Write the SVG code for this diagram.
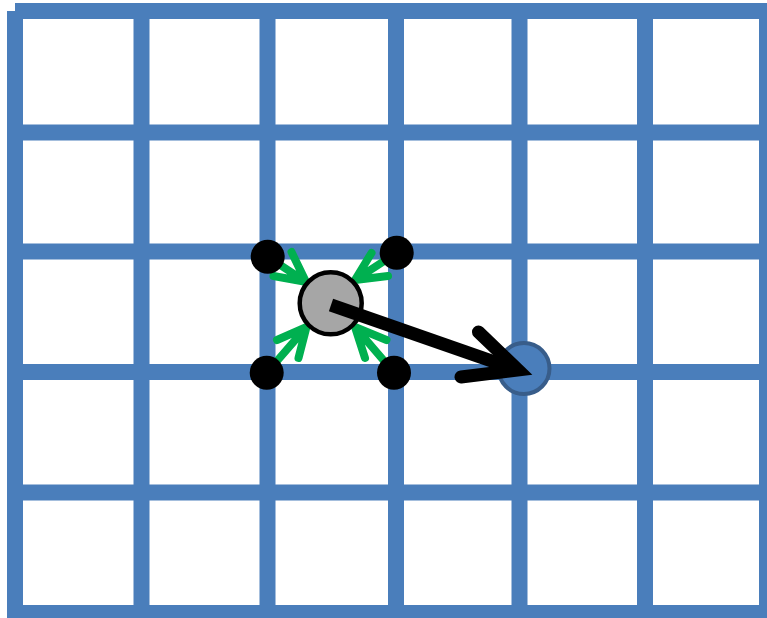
<svg xmlns="http://www.w3.org/2000/svg" width="767" height="618" viewBox="0 0 767 618">
<style>
.grid{stroke:#4A7EBB;stroke-width:16;fill:none}
.green{stroke:#00B050;stroke-width:8;fill:none;stroke-linecap:round;stroke-linejoin:miter}
.dot{fill:#000}
</style>
<rect width="767" height="618" fill="#fff"/>
<g id="grid" class="grid">
<line x1="15" y1="11" x2="15" y2="618"/>
<line x1="141.5" y1="11" x2="141.5" y2="618"/>
<line x1="267.5" y1="11" x2="267.5" y2="618"/>
<line x1="396" y1="11" x2="396" y2="618"/>
<line x1="519.5" y1="11" x2="519.5" y2="618"/>
<line x1="645" y1="11" x2="645" y2="618"/>
<line x1="767" y1="11" x2="767" y2="618"/>
<line x1="15" y1="11" x2="767" y2="11"/>
<line x1="15" y1="132.5" x2="767" y2="132.5"/>
<line x1="15" y1="251.5" x2="767" y2="251.5"/>
<line x1="15" y1="372" x2="767" y2="372"/>
<line x1="15" y1="492.5" x2="767" y2="492.5"/>
<line x1="15" y1="613" x2="767" y2="613"/>
</g>
<g id="connectors">
<path class="green" d="M268 257 L306 282 M291.5 252 L306 282 L273.5 276"/>
<path class="green" d="M396.5 253 L355 280 M371.5 253 L355 280 L388 276"/>
<path class="green" d="M267 372.5 L306.5 327 M277 340 L306.5 327 L298.5 358"/>
<path class="green" d="M394 372.5 L355 327 M386.5 340 L355 327 L365 358"/>
</g>
<g id="node-tl"><circle class="dot" cx="267.7" cy="256.7" r="17"/></g>
<g id="node-tr"><circle class="dot" cx="396.7" cy="252.7" r="17"/></g>
<g id="node-bl"><circle class="dot" cx="266.7" cy="372.7" r="17"/></g>
<g id="node-br"><circle class="dot" cx="394" cy="372.7" r="17"/></g>
<g id="node-center"><circle cx="330.7" cy="303.3" r="31" fill="#A6A6A6" stroke="#000" stroke-width="4.5"/></g>
<g id="node-target"><circle cx="524" cy="368.5" r="25.5" fill="#4A7EBB" stroke="#385D8A" stroke-width="4"/></g>
<g id="connector-main">
<path d="M331 305 L516 369.5" stroke="#000" stroke-width="13" fill="none"/>
<path d="M478.5 332 L518 370 L461 377" stroke="#000" stroke-width="13" fill="none" stroke-linecap="round" stroke-linejoin="miter"/>
</g>
</svg>
